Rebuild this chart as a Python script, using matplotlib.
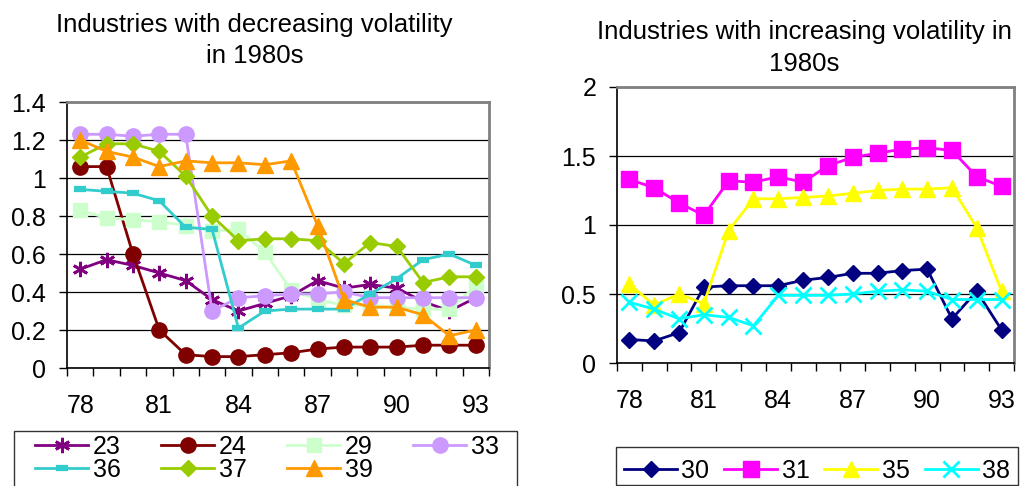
import numpy as np
import matplotlib
matplotlib.use("Agg")
import matplotlib.pyplot as plt
from matplotlib.patches import Rectangle
from matplotlib.ticker import FuncFormatter

plt.rcParams['font.family'] = ['Liberation Sans', 'DejaVu Sans']

years = np.arange(78, 94)

# industries whose volatility fell in the 1980s
dec_names = ["23", "24", "29", "33", "36", "37", "39"]
s23 = [0.52, 0.57, 0.54, 0.50, 0.46, 0.36, 0.30, 0.34, 0.38, 0.46, 0.42, 0.44, 0.42, 0.35, 0.30, 0.37]
s24 = [1.06, 1.06, 0.60, 0.20, 0.07, 0.06, 0.06, 0.07, 0.08, 0.10, 0.11, 0.11, 0.11, 0.12, 0.12, 0.12]
s29 = [0.83, 0.79, 0.78, 0.77, 0.75, 0.72, 0.73, 0.61, 0.41, 0.36, 0.33, 0.33, 0.32, 0.31, 0.31, 0.43]
s33 = [1.23, 1.23, 1.22, 1.23, 1.23, 0.30, 0.37, 0.38, 0.39, 0.39, 0.40, 0.37, 0.37, 0.37, 0.37, 0.37]
s36 = [0.94, 0.93, 0.92, 0.88, 0.74, 0.73, 0.21, 0.30, 0.31, 0.31, 0.31, 0.39, 0.47, 0.57, 0.60, 0.54]
s37 = [1.11, 1.18, 1.18, 1.14, 1.01, 0.80, 0.67, 0.68, 0.68, 0.67, 0.55, 0.66, 0.64, 0.45, 0.48, 0.48]
s39 = [1.20, 1.14, 1.11, 1.06, 1.09, 1.08, 1.08, 1.07, 1.09, 0.75, 0.36, 0.32, 0.32, 0.28, 0.17, 0.20]

# industries whose volatility rose in the 1980s
inc_names = ["30", "31", "35", "38"]
s30 = [0.17, 0.16, 0.22, 0.55, 0.56, 0.56, 0.56, 0.60, 0.62, 0.65, 0.65, 0.67, 0.68, 0.32, 0.52, 0.24]
s31 = [1.33, 1.27, 1.16, 1.07, 1.32, 1.31, 1.35, 1.31, 1.43, 1.49, 1.52, 1.55, 1.56, 1.54, 1.35, 1.28]
s35 = [0.57, 0.42, 0.50, 0.43, 0.96, 1.19, 1.19, 1.20, 1.21, 1.23, 1.25, 1.26, 1.26, 1.27, 0.98, 0.52]
s38 = [0.44, 0.39, 0.32, 0.35, 0.33, 0.27, 0.49, 0.49, 0.49, 0.50, 0.52, 0.53, 0.52, 0.46, 0.46, 0.46]

year_labels = ["78", "81", "84", "87", "90", "93"]

FS = 18

# marker styles: (color, marker, size, edge width)
dec_style = [
    ("#800080", (6, 2, 0), 11, 2.0),
    ("#800000", "o", 11, 1.0),
    ("#CCFFCC", "s", 10.5, 1.0),
    ("#CC99FF", "o", 11, 1.0),
    ("#33CCCC", "_", 9, 4.5),
    ("#99CC00", "D", 8, 1.0),
    ("#FF9900", "^", 11, 1.0),
]
inc_style = [
    ("#000080", "D", 8, 1.0),
    ("#FF00FF", "s", 11, 1.0),
    ("#FFFF00", "^", 12, 1.0),
    ("#00FFFF", "x", 11, 2.0),
]

fig = plt.figure(figsize=(10.24, 4.86), dpi=100)
ax1 = fig.add_axes([67/1024, 1-368/486, 422/1024, 266/486])
ax2 = fig.add_axes([617/1024, 1-363/486, 397/1024, 276/486])


def style_axes(ax, ymax, ystep):
    ax.set_xlim(77.5, 93.5)
    ax.set_ylim(0, ymax)
    ax.set_xticks([int(v) for v in year_labels])
    ax.set_xticklabels(year_labels)
    ax.set_xticks(np.arange(77.5, 94, 1), minor=True)
    ax.set_yticks(np.arange(0, ymax + 1e-9, ystep))
    ax.yaxis.set_major_formatter(FuncFormatter(lambda v, p: f"{v:g}"))
    ax.tick_params(axis='x', which='major', length=0, pad=19, labelsize=FS)
    ax.tick_params(axis='x', which='minor', length=5.5, width=1, direction='out')
    ax.tick_params(axis='y', length=6, width=1, direction='out', pad=9, labelsize=FS)
    ax.grid(axis='y', color='black', lw=0.9)
    ax.set_axisbelow(True)
    for side in ('left', 'bottom'):
        ax.spines[side].set_color('black')
        ax.spines[side].set_linewidth(1.2)
    for side in ('top', 'right'):
        ax.spines[side].set_color('#808080')
        ax.spines[side].set_linewidth(2)


style_axes(ax1, 1.4, 0.2)
style_axes(ax2, 2.0, 0.5)

for name, vals, (c, m, ms, mew) in zip(dec_names, [s23, s24, s29, s33, s36, s37, s39], dec_style):
    ax1.plot(years, vals, color=c, lw=2, marker=m, ms=ms, mfc=c, mec=c, mew=mew, label=name)

for name, vals, (c, m, ms, mew) in zip(inc_names, [s30, s31, s35, s38], inc_style):
    ax2.plot(years, vals, color=c, lw=2, marker=m, ms=ms, mfc=c, mec=c, mew=mew, label=name)

# titles
TFS = 18.5
fig.text(254.5/1024, 1-32/486, "Industries with decreasing volatility", ha='center', va='baseline', fontsize=TFS)
fig.text(254.5/1024, 1-63/486, "in 1980s", ha='center', va='baseline', fontsize=TFS)
fig.text(804.5/1024, 1-39/486, "Industries with increasing volatility in", ha='center', va='baseline', fontsize=TFS)
fig.text(804.5/1024, 1-71/486, "1980s", ha='center', va='baseline', fontsize=TFS)

# legends drawn frameless, boxes added separately; entries reordered so rows read across
h1, l1 = ax1.get_legend_handles_labels()
order = [0, 4, 1, 5, 2, 6, 3]
fig.legend([h1[i] for i in order], [l1[i] for i in order], loc='upper left',
           bbox_to_anchor=(35/1024, 1-435/486), ncol=4,
           frameon=False, fontsize=FS, borderpad=0, borderaxespad=0,
           handlelength=2.12, handletextpad=0.18, columnspacing=1.63, labelspacing=-0.05)
h2, l2 = ax2.get_legend_handles_labels()
fig.legend(h2, l2, loc='upper left', bbox_to_anchor=(624/1024, 1-459/486), ncol=4,
           frameon=False, fontsize=FS, borderpad=0, borderaxespad=0,
           handlelength=2.12, handletextpad=0.18, columnspacing=0.59)

fig.patches.append(Rectangle((14/1024, 1-492/486), 503/1024, 61/486, transform=fig.transFigure,
                             fill=False, ec='#333333', lw=1))
fig.patches.append(Rectangle((616/1024, 1-485/486), 402/1024, 38/486, transform=fig.transFigure,
                             fill=False, ec='#333333', lw=1))

fig.savefig("out.png", dpi=100)
